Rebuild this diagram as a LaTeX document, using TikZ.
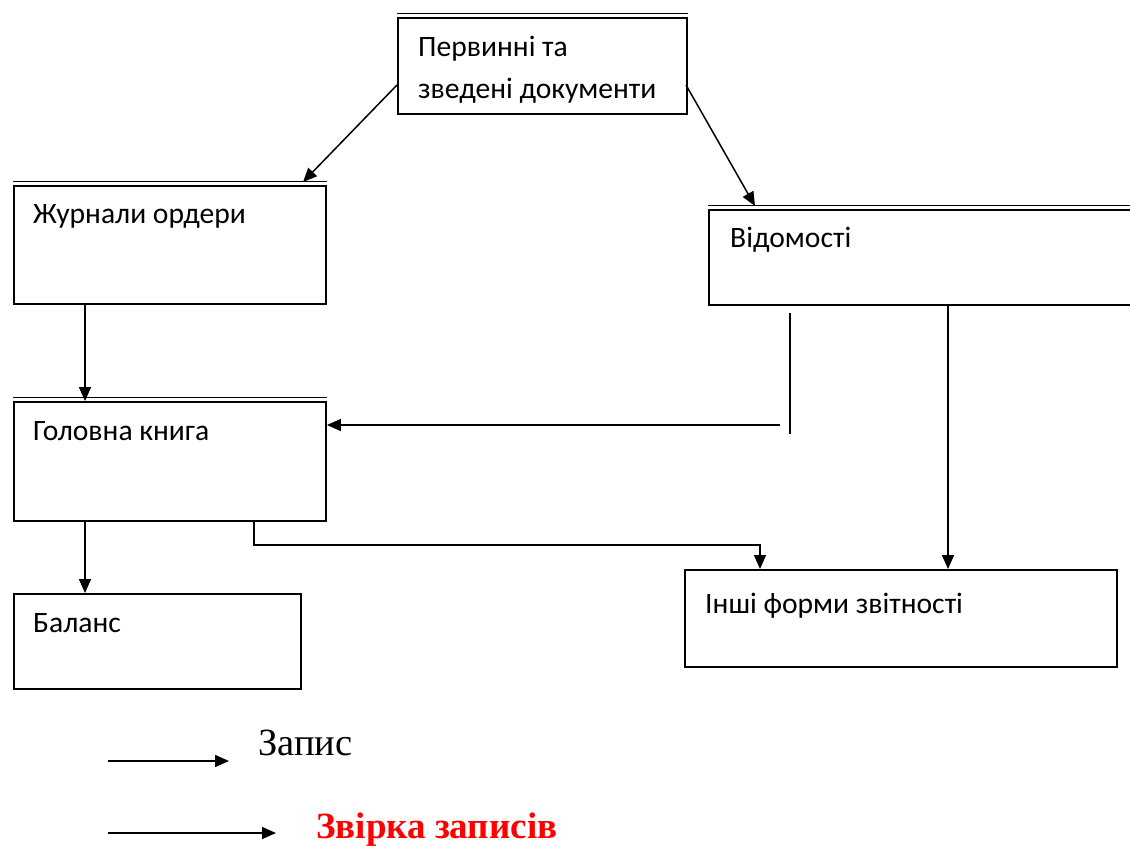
\documentclass[tikz,border=0pt]{standalone}
\usepackage{fontspec}
\setmainfont{Liberation Serif}
\newfontfamily\boxfont{Carlito}
\usetikzlibrary{arrows.meta}
\definecolor{legred}{RGB}{255,0,0}
\begin{document}
\begin{tikzpicture}[x=1pt,y=-1pt,
  box/.style={draw,line width=1.9pt,rectangle,anchor=north west,inner sep=0pt},
  boxtext/.style={anchor=base west,inner sep=0pt,font=\boxfont\fontsize{29.6}{35}\selectfont},
  conn/.style={line width=1.5pt},
  arr/.style={conn,-{Triangle[length=14pt,width=12pt]}},
  dbl/.style={line width=1.3pt}]
\useasboundingbox (0,0) rectangle (1130,846);

% boxes
\node[box,minimum width=289pt,minimum height=96pt] (prim) at (397,17) {};
\draw[dbl] ([yshift=3.2pt]prim.north west) -- ([yshift=3.2pt]prim.north east);
\node[boxtext] (primt1) at (418,56) {Первинні та};
\node[boxtext] (primt2) at (418,98) {зведені документи};

\node[box,minimum width=312pt,minimum height=118pt] (jour) at (13,185) {};
\draw[dbl] ([yshift=3.2pt]jour.north west) -- ([yshift=3.2pt]jour.north east);
\node[boxtext] (jourt) at (33,223) {Журнали ордери};

\node[box,minimum width=430pt,minimum height=95pt] (ved) at (708,209) {};
\draw[dbl] ([yshift=3.2pt]ved.north west) -- ([yshift=3.2pt]ved.north east);
\node[boxtext] (vedt) at (730,247) {Відомості};

\node[box,minimum width=312pt,minimum height=119pt] (gk) at (13,401) {};
\draw[dbl] ([yshift=3.2pt]gk.north west) -- ([yshift=3.2pt]gk.north east);
\node[boxtext] (gkt) at (33,440) {Головна книга};

\node[box,minimum width=287pt,minimum height=95pt] (bal) at (13,593) {};
\node[boxtext] (balt) at (33,632) {Баланс};

\node[box,minimum width=432pt,minimum height=97pt] (inshi) at (684,569) {};
\node[boxtext] (inshit) at (705,613) {Інші форми звітності};

% connectors
\coordinate (p1) at (397,85);
\coordinate (p2) at (686,85);
\draw[arr] (p1) -- (303,182);
\draw[arr] (p2) -- (755,206);
\draw[arr] (jour.south -| 85,0) -- (gk.north -| 85,0);
\coordinate (v1) at (790,313);
\coordinate (v2) at (790,434);
\draw[conn] (v1) -- (v2);
\coordinate (h1) at (780,425);
\draw[arr] (h1) -- (gk.east |- h1);
\draw[arr] (ved.south -| 948,0) -- (inshi.north -| 948,0);
\draw[arr] (gk.south -| 254,0) -- (254,545) -- (760,545) -- (inshi.north -| 760,0);
\draw[arr] (gk.south -| 85,0) -- (bal.north -| 85,0);

% legend
\coordinate (l1a) at (108,761);
\coordinate (l1b) at (229,761);
\draw[arr] (l1a) -- (l1b);
\node[anchor=base west,inner sep=0pt,font=\fontsize{38.5}{46}\selectfont] (leg1) at (258,755) {Запис};
\coordinate (l2a) at (108,833);
\coordinate (l2b) at (276,833);
\draw[arr] (l2a) -- (l2b);
\node[anchor=base west,inner sep=0pt,text=legred,font=\bfseries\fontsize{37}{44}\selectfont] (leg2) at (316,838) {Звірка записів};
\end{tikzpicture}
\end{document}
